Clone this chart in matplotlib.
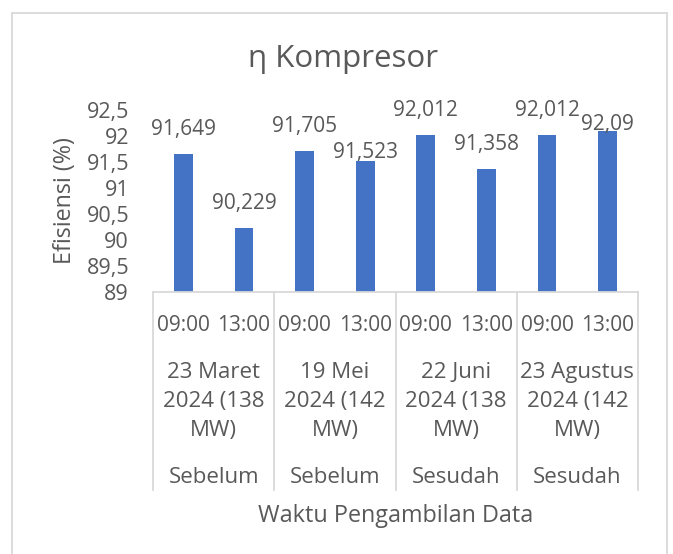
import numpy as np
import matplotlib
matplotlib.use("Agg")
import matplotlib.pyplot as plt
from matplotlib.lines import Line2D

# data
times = ["09:00", "13:00", "09:00", "13:00", "09:00", "13:00", "09:00", "13:00"]
values = [91.649, 90.229, 91.705, 91.523, 92.012, 91.358, 92.012, 92.09]
value_labels = ["91,649", "90,229", "91,705", "91,523", "92,012", "91,358", "92,012", "92,09"]
dates = ["23 Maret\n2024 (138\nMW)", "19 Mei\n2024 (142\nMW)",
         "22 Juni\n2024 (138\nMW)", "23 Agustus\n2024 (142\nMW)"]
phases = ["Sebelum", "Sebelum", "Sesudah", "Sesudah"]
yticks = [89, 89.5, 90, 90.5, 91, 91.5, 92, 92.5]
ytick_labels = ["89", "89,5", "90", "90,5", "91", "91,5", "92", "92,5"]

W, H, DPI = 673, 554, 100
TXT = "#595959"
LINE = "#D9D9D9"
BAR = "#4472C4"
FONT = "Open Sans"
FS_NUM = 15
FS_TXT = 16
FS_AX = 16.8

plt.rcParams['font.family'] = [FONT, 'DejaVu Sans']


def px2pt(p):
    return p * 72.0 / DPI


def main():
    fig = plt.figure(figsize=(W / DPI, H / DPI), dpi=DPI)
    fig.patch.set_facecolor("white")

    # chart border (top, left, right)
    bl, br, bt = 12, 667, 13
    for xs, ys in [([bl, br], [bt, bt]), ([bl, bl], [bt, H + 5]), ([br, br], [bt, H + 5])]:
        fig.add_artist(Line2D([x / W for x in xs], [1 - y / H for y in ys],
                              color=LINE, lw=1.3, transform=fig.transFigure))

    # plot area
    x0, x1, ytop, ybot = 153, 638, 110, 292
    ax = fig.add_axes([x0 / W, 1 - ybot / H, (x1 - x0) / W, (ybot - ytop) / H])
    x = np.arange(len(values))
    ax.bar(x, values, width=0.31, color=BAR, zorder=2)
    ax.set_xlim(-0.5, len(values) - 0.5)
    ax.set_ylim(89, 92.5)
    ax.set_yticks(yticks)
    ax.set_yticklabels(ytick_labels, fontsize=15.5, color=TXT)
    ax.tick_params(axis='y', length=0, pad=px2pt(24))
    ax.set_xticks([])
    for s in ["left", "right", "top"]:
        ax.spines[s].set_visible(False)
    ax.spines["bottom"].set_color(LINE)
    ax.spines["bottom"].set_linewidth(1.3)

    # data labels (excel pushed two of them down onto the bar)
    offsets = {3: 3, 7: 1}
    for i, (v, lab) in enumerate(zip(values, value_labels)):
        off = offsets.get(i, 19)
        ax.annotate(lab, xy=(i, v), xytext=(0, px2pt(off)), textcoords="offset points",
                    ha="center", va="baseline", fontsize=FS_NUM, color=TXT)

    # multi-level category axis
    xy_tr = ('data', 'axes fraction')
    for i, t in enumerate(times):
        ax.annotate(t, xy=(i, 0), xycoords=xy_tr, xytext=(0, -px2pt(331 - ybot)),
                    textcoords="offset points", ha="center", va="baseline",
                    fontsize=FS_NUM, color=TXT, annotation_clip=False)
    base_lines = [378, 407, 436]
    for g, d in enumerate(dates):
        xc = 2 * g + 0.5
        for line, by in zip(d.split("\n"), base_lines):
            ax.annotate(line, xy=(xc, 0), xycoords=xy_tr, xytext=(0, -px2pt(by - ybot)),
                        textcoords="offset points", ha="center", va="baseline",
                        fontsize=FS_TXT, color=TXT, annotation_clip=False)
        ax.annotate(phases[g], xy=(xc, 0), xycoords=xy_tr, xytext=(0, -px2pt(483 - ybot)),
                    textcoords="offset points", ha="center", va="baseline",
                    fontsize=FS_TXT, color=TXT, annotation_clip=False)

    # group separators
    line_bottom = 490
    for b in [-0.5, 1.5, 3.5, 5.5, 7.5]:
        ax.plot([b, b], [0, -(line_bottom - ybot) / (ybot - ytop)], color=LINE, lw=1.3,
                transform=ax.get_xaxis_transform(), clip_on=False)

    # axis titles and chart title
    fig.text((x0 + x1) / 2 / W, 1 - 522 / H, "Waktu Pengambilan Data",
             ha="center", va="baseline", fontsize=FS_AX, color=TXT)
    fig.text(65 / W, 1 - 201 / H, "Efisiensi (%)", rotation=90,
             ha="center", va="center", fontsize=FS_AX, color=TXT)
    fig.text(343 / W, 1 - 67 / H, "\u03b7 Kompresor",
             ha="center", va="baseline", fontsize=22.5, color=TXT)

    fig.savefig("out.png", dpi=DPI)
    plt.close(fig)


if __name__ == "__main__":
    main()
